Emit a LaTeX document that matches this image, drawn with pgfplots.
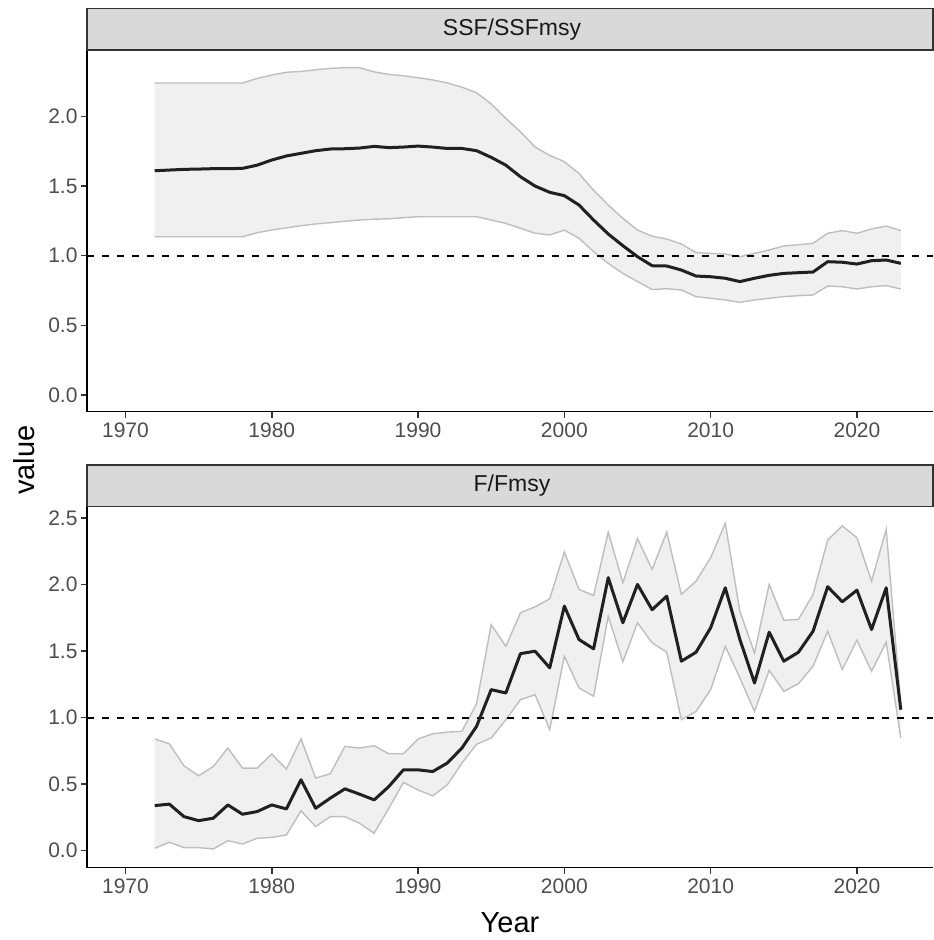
\documentclass[border=0pt]{standalone}
\usepackage{fontspec}
\setmainfont{Liberation Sans}
\usepackage{pgfplots}
\usepackage{pgfplotstable}
\pgfplotsset{compat=1.18}
\usepgfplotslibrary{fillbetween}

\definecolor{ribfill}{HTML}{F0F0F0}
\definecolor{ribline}{HTML}{BEBEBE}
\definecolor{ticklab}{HTML}{4D4D4D}
\definecolor{stripfill}{HTML}{D9D9D9}
\definecolor{stripline}{HTML}{333333}
\definecolor{mline}{HTML}{202020}

\pgfplotstableread{
year mid lo hi
1972 1.610 1.136 2.240
1973 1.615 1.136 2.240
1974 1.620 1.136 2.240
1975 1.622 1.136 2.240
1976 1.625 1.136 2.240
1977 1.625 1.136 2.240
1978 1.627 1.136 2.240
1979 1.650 1.165 2.273
1980 1.687 1.184 2.297
1981 1.716 1.200 2.317
1982 1.735 1.215 2.323
1983 1.754 1.228 2.335
1984 1.766 1.237 2.345
1985 1.768 1.247 2.350
1986 1.773 1.256 2.350
1987 1.785 1.262 2.320
1988 1.776 1.265 2.302
1989 1.780 1.273 2.292
1990 1.787 1.280 2.278
1991 1.780 1.280 2.262
1992 1.770 1.280 2.240
1993 1.770 1.280 2.210
1994 1.754 1.280 2.170
1995 1.706 1.256 2.090
1996 1.650 1.232 1.986
1997 1.567 1.197 1.890
1998 1.500 1.161 1.780
1999 1.455 1.149 1.720
2000 1.431 1.184 1.675
2001 1.364 1.125 1.590
2002 1.256 1.029 1.470
2003 1.156 0.945 1.364
2004 1.072 0.873 1.268
2005 0.993 0.814 1.184
2006 0.928 0.757 1.140
2007 0.926 0.763 1.120
2008 0.897 0.754 1.084
2009 0.854 0.706 1.022
2010 0.849 0.694 1.017
2011 0.838 0.682 1.012
2012 0.814 0.665 0.993
2013 0.838 0.682 1.017
2014 0.859 0.694 1.041
2015 0.873 0.706 1.070
2016 0.878 0.713 1.079
2017 0.883 0.718 1.089
2018 0.957 0.782 1.161
2019 0.953 0.777 1.180
2020 0.940 0.761 1.161
2021 0.964 0.777 1.192
2022 0.969 0.785 1.213
2023 0.945 0.761 1.180
}\ssf

\pgfplotstableread{
year mid lo hi
1972 0.339 0.018 0.840
1973 0.350 0.063 0.804
1974 0.256 0.023 0.638
1975 0.226 0.023 0.563
1976 0.244 0.013 0.633
1977 0.344 0.075 0.772
1978 0.274 0.050 0.621
1979 0.294 0.093 0.621
1980 0.344 0.100 0.726
1981 0.314 0.118 0.613
1982 0.533 0.300 0.840
1983 0.319 0.181 0.546
1984 0.395 0.256 0.578
1985 0.465 0.256 0.784
1986 0.425 0.206 0.772
1987 0.382 0.131 0.789
1988 0.482 0.319 0.729
1989 0.608 0.513 0.729
1990 0.608 0.457 0.840
1991 0.595 0.412 0.879
1992 0.659 0.495 0.892
1993 0.772 0.659 0.897
1994 0.935 0.800 1.106
1995 1.211 0.847 1.700
1996 1.186 0.985 1.537
1997 1.482 1.136 1.789
1998 1.500 1.173 1.834
1999 1.375 0.910 1.894
2000 1.839 1.462 2.246
2001 1.588 1.224 1.965
2002 1.518 1.161 1.919
2003 2.053 1.763 2.396
2004 1.714 1.420 2.015
2005 2.002 1.714 2.347
2006 1.812 1.563 2.115
2007 1.914 1.492 2.396
2008 1.425 0.985 1.927
2009 1.492 1.047 2.027
2010 1.676 1.211 2.203
2011 1.977 1.537 2.462
2012 1.588 1.299 1.801
2013 1.261 1.047 1.487
2014 1.643 1.357 2.002
2015 1.425 1.198 1.733
2016 1.492 1.256 1.739
2017 1.650 1.387 1.927
2018 1.985 1.650 2.336
2019 1.872 1.362 2.442
2020 1.959 1.583 2.354
2021 1.663 1.349 2.027
2022 1.977 1.568 2.417
2023 1.060 0.847 1.100
}\ff

\pgfplotsset{panel/.style={
  scale only axis, width=846pt, height=361.7pt,
  xmin=1967.37, xmax=2025.2,
  axis x line*=bottom, axis y line*=left,
  axis line style={-, black, line width=1.5pt},
  tick align=outside, major tick length=6pt,
  tick style={stripline, line width=1.5pt},
  xtick={1970,1980,...,2020},
  /pgf/number format/assume math mode=true,
  x tick label style={/pgf/number format/1000 sep={}, yshift=-2pt},
  y tick label style={/pgf/number format/.cd, fixed, fixed zerofill, precision=1},
  ticklabel style={font=\fontsize{21}{25}\selectfont, text=ticklab},
  clip=true,
}}

\begin{document}
\begin{tikzpicture}

% top panel
\begin{axis}[panel, at={(87pt,528.3pt)}, anchor=south west,
  ymin=-0.12, ymax=2.477, ytick={0,0.5,1,1.5,2}]
  \addplot[name path=up, draw=ribline, line width=1.4pt] table[x=year,y=hi]{\ssf};
  \addplot[name path=lo, draw=ribline, line width=1.4pt] table[x=year,y=lo]{\ssf};
  \addplot[ribfill] fill between[of=up and lo];
  \addplot[black, line width=1.8pt, dash pattern=on 7.3pt off 7.7pt] coordinates {(1967.37,1) (2025.2,1)};
  \addplot[mline, line width=3pt, line join=round] table[x=year,y=mid]{\ssf};
\end{axis}

% bottom panel
\begin{axis}[panel, at={(87pt,72.3pt)}, anchor=south west,
  ymin=-0.128, ymax=2.592, ytick={0,0.5,1,1.5,2,2.5}]
  \addplot[name path=up, draw=ribline, line width=1.4pt] table[x=year,y=hi]{\ff};
  \addplot[name path=lo, draw=ribline, line width=1.4pt] table[x=year,y=lo]{\ff};
  \addplot[ribfill] fill between[of=up and lo];
  \addplot[black, line width=1.8pt, dash pattern=on 7.3pt off 7.7pt] coordinates {(1967.37,1) (2025.2,1)};
  \addplot[mline, line width=3pt, line join=round] table[x=year,y=mid]{\ff};
\end{axis}

% strips
\draw[fill=stripfill, draw=stripline, line width=1.5pt] (87pt,890pt) rectangle (933pt,931.7pt);
\node[font=\fontsize{23}{27}\selectfont, text=black!90] at (512pt,910.8pt) {SSF/SSFmsy};
\draw[fill=stripfill, draw=stripline, line width=1.5pt] (87pt,433.3pt) rectangle (933pt,475pt);
\node[font=\fontsize{23}{27}\selectfont, text=black!90] at (512pt,454.1pt) {F/Fmsy};

% axis titles
\node[rotate=90, font=\fontsize{29}{34}\selectfont] at (24pt,480pt) {value};
\node[anchor=base, font=\fontsize{29}{34}\selectfont] at (510pt,7pt) {Year};

\pgfresetboundingbox
\useasboundingbox (0pt,0pt) rectangle (934pt,940pt);
\end{tikzpicture}
\end{document}
